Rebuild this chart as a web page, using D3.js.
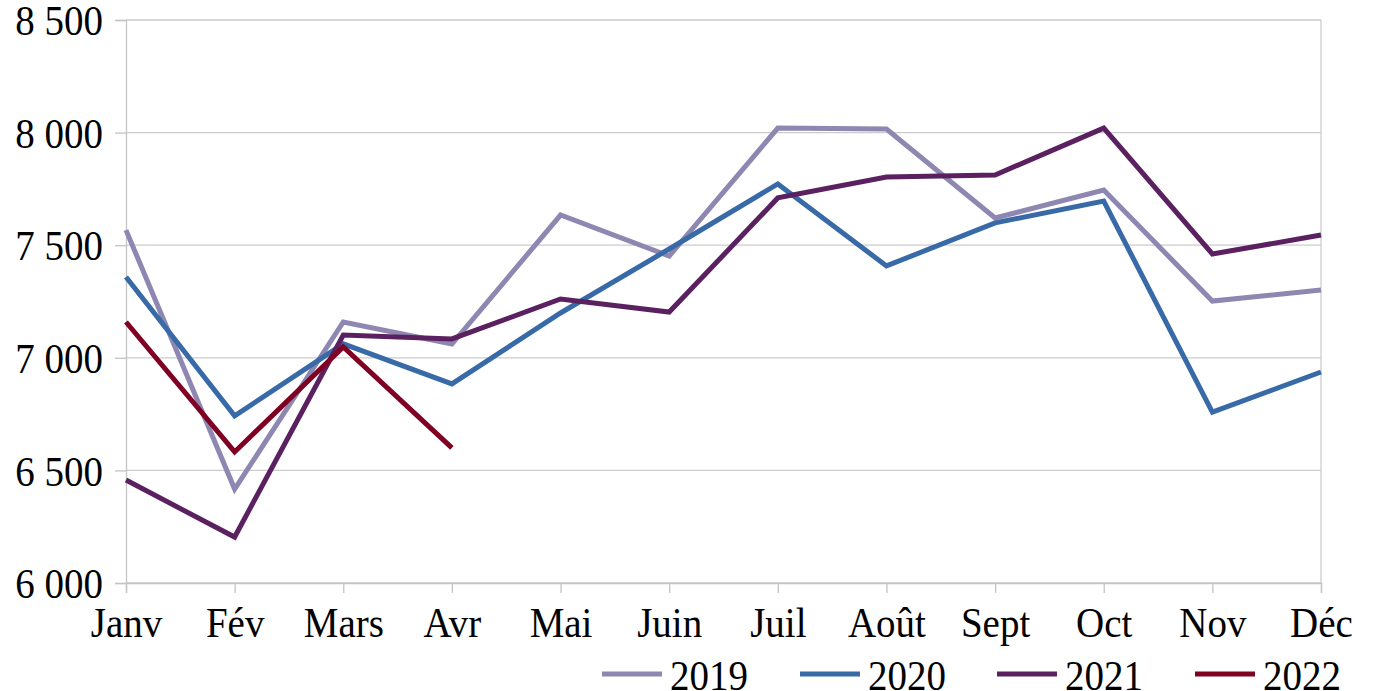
<!DOCTYPE html>
<html>
<head>
<meta charset="utf-8">
<script src="https://cdn.jsdelivr.net/npm/d3@7"></script>
<style>
  body { margin: 0; background: #fff; }
  text { font-family: "Liberation Serif", "Times New Roman", serif; fill: #000; }
</style>
</head>
<body>
<div id="chart"></div>
<script>
// months and series
const months = ["Janv", "Fév", "Mars", "Avr", "Mai", "Juin", "Juil", "Août", "Sept", "Oct", "Nov", "Déc"];
const yTicks = [6000, 6500, 7000, 7500, 8000, 8500];

const v2019 = [7567, 6417, 7159, 7061, 7634, 7452, 8020, 8016, 7621, 7745, 7252, 7301];
const v2020 = [7359, 6742, 7062, 6884, 7199, 7483, 7772, 7408, 7599, 7696, 6759, 6937];
const v2021 = [6457, 6204, 7101, 7084, 7261, 7203, 7710, 7803, 7812, 8020, 7461, 7545];
const v2022 = [7159, 6582, 7048, 6600];

const seriesNames = ["2019", "2020", "2021", "2022"];
const seriesColors = ["#8e87b1", "#386aa8", "#5a2060", "#7f0022"];

const series = [v2019, v2020, v2021, v2022].map((vals, i) => ({
    name: seriesNames[i],
    color: seriesColors[i],
    values: vals
}));

let margin = {top: 20, right: 52, bottom: 108, left: 126};
let W = 1373, H = 691;
let width = W - margin.left - margin.right;
let height = H - margin.top - margin.bottom;

// the reference type is a bit taller than it is wide
let fontSize = 39, stretch = 1.1;

let svg = d3.select("#chart").append("svg")
    .attr("width", W)
    .attr("height", H);

let g = svg.append("g")
    .attr("transform", `translate(${margin.left}, ${margin.top})`);

// scales
let x = d3.scalePoint()
    .domain(months)
    .range([0, width]);

let y = d3.scaleLinear()
    .domain([6000, 8500])
    .range([height, 0]);

// grid lines
g.selectAll(".grid")
    .data(yTicks)
    .enter().append("line")
    .attr("class", "grid")
    .attr("x1", 0)
    .attr("x2", width)
    .attr("y1", d => y(d))
    .attr("y2", d => y(d))
    .attr("stroke", "#cccccc")
    .attr("stroke-width", 1.3);

// right border
g.append("line")
    .attr("x1", width).attr("x2", width)
    .attr("y1", 0).attr("y2", height)
    .attr("stroke", "#cccccc")
    .attr("stroke-width", 1.3);

// y axis
let fmt = d => d3.format(",")(d).replace(",", " ");
let yAxis = d3.axisLeft(y)
    .tickValues(yTicks)
    .tickFormat(fmt)
    .tickSize(11)
    .tickPadding(12);

let yG = g.append("g").call(yAxis);
yG.select(".domain").attr("stroke", "#c4c4c4").attr("stroke-width", 1.3);
yG.selectAll(".tick line").attr("stroke", "#c4c4c4").attr("stroke-width", 1.3);
yG.selectAll(".tick text")
    .style("font-family", "'Liberation Serif', serif")
    .attr("font-size", fontSize)
    .attr("fill", "#000")
    .attr("dy", "0.34em")
    .attr("transform", `scale(1, ${stretch})`);

// x axis
let xAxis = d3.axisBottom(x)
    .tickSize(10)
    .tickPadding(8);

let xG = g.append("g")
    .attr("transform", `translate(0, ${height})`)
    .call(xAxis);
xG.select(".domain").attr("stroke", "#c4c4c4").attr("stroke-width", 1.3);
xG.selectAll(".tick line").attr("stroke", "#c4c4c4").attr("stroke-width", 1.3);
xG.selectAll(".tick text")
    .style("font-family", "'Liberation Serif', serif")
    .attr("font-size", fontSize)
    .attr("fill", "#000")
    .attr("y", 54 / stretch)
    .attr("dy", 0)
    .attr("transform", `scale(1, ${stretch})`);

// lines
let line = d3.line()
    .x((d, i) => x(months[i]))
    .y(d => y(d));

g.selectAll(".series")
    .data(series)
    .enter().append("path")
    .attr("class", "series")
    .attr("fill", "none")
    .attr("stroke", d => d.color)
    .attr("stroke-width", 5)
    .attr("stroke-linejoin", "miter")
    .attr("d", d => line(d.values));

// legend
let legendX = [602, 800, 997, 1195];
let legend = svg.append("g").attr("class", "legend");
let items = legend.selectAll("g")
    .data(series)
    .enter().append("g")
    .attr("transform", (d, i) => `translate(${legendX[i]}, 674)`);

items.append("line")
    .attr("x1", 0).attr("x2", 60)
    .attr("y1", 0).attr("y2", 0)
    .attr("stroke", d => d.color)
    .attr("stroke-width", 5);

items.append("text")
    .attr("x", 68)
    .attr("y", 16 / stretch)
    .attr("font-size", fontSize)
    .attr("transform", `scale(1, ${stretch})`)
    .text(d => d.name);
</script>
</body>
</html>
